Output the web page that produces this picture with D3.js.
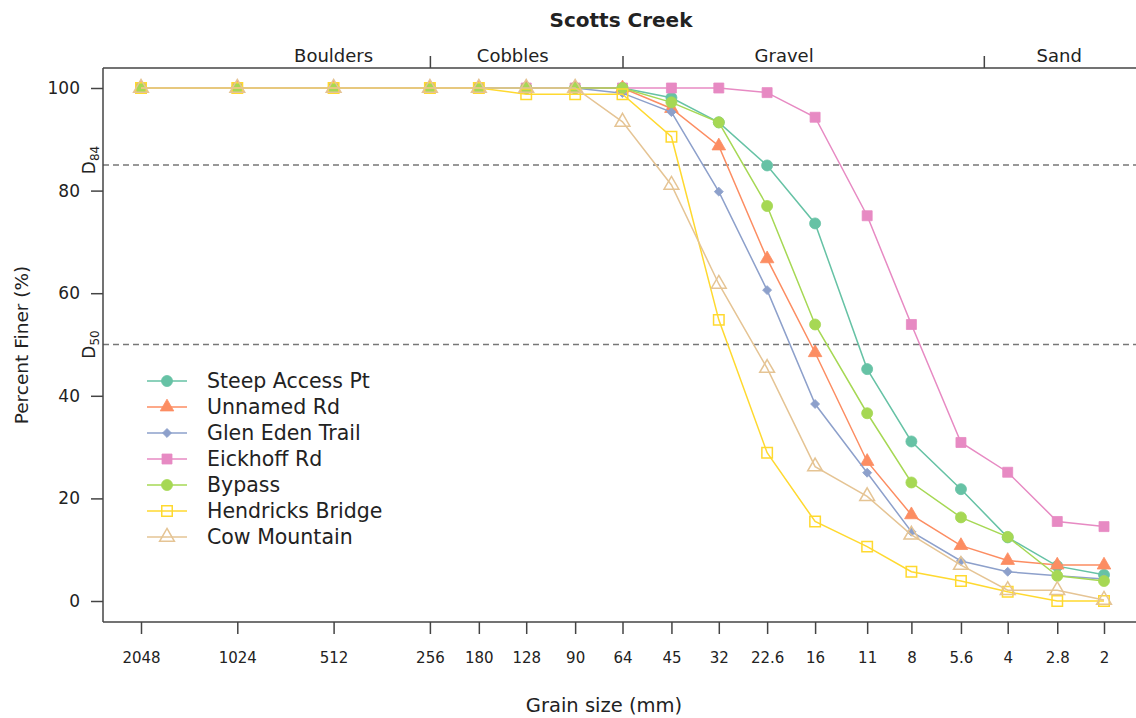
<!DOCTYPE html>
<html><head><meta charset="utf-8">
<script src="https://cdn.jsdelivr.net/npm/d3@7"></script>
<style>
body{margin:0;background:#fff;}
text{font-family:"DejaVu Sans",sans-serif;fill:#222;}
</style></head>
<body><svg id="chart" width="1136" height="718"></svg>
<script>
const sizes = [2048,1024,512,256,180,128,90,64,45,32,22.6,16,11,8,5.6,4,2.8,2];
const tickLabels = ["2048","1024","512","256","180","128","90","64","45","32","22.6","16","11","8","5.6","4","2.8","2"];
const yTicks = [0,20,40,60,80,100];
const siteNames = ["Steep Access Pt","Unnamed Rd","Glen Eden Trail","Eickhoff Rd","Bypass","Hendricks Bridge","Cow Mountain"];
const steepAccessPt  = [100,100,100,100,100,100,100,100,98.1,93.3,84.9,73.6,45.2,31.1,21.8,12.4,6.8,5.1];
const unnamedRd      = [100,100,100,100,100,100,100,100,96.0,88.7,66.7,48.4,27.2,16.8,10.8,7.9,7.0,7.0];
const glenEdenTrail  = [100,100,100,100,100,100,100,99.0,95.3,79.8,60.6,38.4,25.0,13.5,7.8,5.7,4.9,4.3];
const eickhoffRd     = [100,100,100,100,100,100,100,100,100,100,99.1,94.3,75.1,53.9,30.9,25.1,15.5,14.5];
const bypass         = [100,100,100,100,100,100,100,100,97.2,93.3,77.0,53.9,36.6,23.1,16.3,12.5,4.9,3.9];
const hendricksBridge= [100,100,100,100,100,98.8,98.8,98.8,90.5,54.8,28.9,15.5,10.6,5.7,3.9,1.8,0,0];
const cowMountain    = [100,100,100,100,100,100,100,93.4,81.1,61.8,45.4,26.2,20.4,12.9,7.0,2.1,2.1,0.2];
const seriesValues = [steepAccessPt,unnamedRd,glenEdenTrail,eickhoffRd,bypass,hendricksBridge,cowMountain];
const colors = ["#66c2a5","#fc8d62","#8da0cb","#e78ac3","#a6d854","#ffd92f","#e5c494"];
const shapes = ["circle","triangle","diamond","square","circle","squareOpen","triangleOpen"];
const zoneBounds = [256,64,4.75];
const zoneNames = ["Boulders","Cobbles","Gravel","Sand"];
const zoneLabelAt = [512,141,20,2.76];
const refLines = [85,50];
const refLabels = [["D","84"],["D","50"]];

const svg = d3.select("#chart");
const x = d3.scaleLog().base(2).domain([2048,2]).range([141,1104]);
const y = d3.scaleLinear().domain([0,100]).range([601,88]);
const L = 103, R = 1136, T = 68, B = 622;
const axisColor = "#444";

// title
svg.append("text").attr("x",621).attr("y",27).attr("text-anchor","middle")
  .style("font-size","20px").style("font-weight","bold").text("Scotts Creek");

// reference dashed lines
refLines.forEach((v,i)=>{
  svg.append("line").attr("x1",L).attr("x2",R).attr("y1",y(v)).attr("y2",y(v))
    .attr("stroke","#777").attr("stroke-width",1.6).attr("stroke-dasharray","6,4");
  const t = svg.append("text").attr("transform",`translate(95,${y(v)-(i===0?5:0)}) rotate(-90)`)
    .attr("text-anchor","middle").style("font-size","17px");
  t.append("tspan").text(refLabels[i][0]);
  t.append("tspan").attr("dy","4").style("font-size","12px").text(refLabels[i][1]);
});

// frame
svg.append("line").attr("x1",L).attr("x2",L).attr("y1",T).attr("y2",B).attr("stroke",axisColor).attr("stroke-width",1.5);
svg.append("line").attr("x1",L).attr("x2",R).attr("y1",B).attr("y2",B).attr("stroke",axisColor).attr("stroke-width",1.5);
svg.append("line").attr("x1",L).attr("x2",R).attr("y1",T).attr("y2",T).attr("stroke",axisColor).attr("stroke-width",1.5);

// bottom axis
const xAxis = d3.axisBottom(x).tickValues(sizes).tickFormat((d,i)=>tickLabels[i]).tickSize(12).tickPadding(18);
const gx = svg.append("g").attr("transform",`translate(0,${B})`).call(xAxis);
gx.select(".domain").remove();
gx.selectAll("line").attr("stroke",axisColor).attr("stroke-width",1.5);
gx.selectAll("text").style("font-size","15px").style("font-family","DejaVu Sans").attr("fill","#222");

// left axis
const yAxis = d3.axisLeft(y).tickValues(yTicks).tickSize(12).tickPadding(11);
const gy = svg.append("g").attr("transform",`translate(${L},0)`).call(yAxis);
gy.select(".domain").remove();
gy.selectAll("line").attr("stroke",axisColor).attr("stroke-width",1.5);
gy.selectAll("text").style("font-size","17px").style("font-family","DejaVu Sans").attr("fill","#222");

// top zone axis
const xTop = d3.axisTop(x).tickValues(zoneBounds).tickFormat("").tickSize(12);
const gt = svg.append("g").attr("transform",`translate(0,${T})`).call(xTop);
gt.select(".domain").remove();
gt.selectAll("line").attr("stroke",axisColor).attr("stroke-width",1.5);
zoneNames.forEach((n,i)=>{
  svg.append("text").attr("x",x(zoneLabelAt[i])).attr("y",62).attr("text-anchor","middle")
    .style("font-size","18px").text(n);
});

// axis titles
svg.append("text").attr("x",604).attr("y",712).attr("text-anchor","middle").style("font-size","19.5px").text("Grain size (mm)");
svg.append("text").attr("transform","translate(28,345) rotate(-90)").attr("text-anchor","middle").style("font-size","18.5px").text("Percent Finer (%)");

// markers
function drawMarker(g, shape, color){
  let type, size, filled = true, rot = 0;
  if(shape==="circle"){type=d3.symbolCircle;size=95;}
  else if(shape==="triangle"){type=d3.symbolTriangle;size=80;}
  else if(shape==="diamond"){type=d3.symbolSquare;size=40;rot=45;}
  else if(shape==="square"){type=d3.symbolSquare;size=100;}
  else if(shape==="squareOpen"){type=d3.symbolSquare;size=110;filled=false;}
  else {type=d3.symbolTriangle;size=95;filled=false;}
  return g.append("path").attr("d",d3.symbol().type(type).size(size)())
    .attr("transform",`rotate(${rot})`)
    .attr("fill",filled?color:"none").attr("stroke",color).attr("stroke-width",filled?0.8:1.5);
}

const line = d3.line().x((d,i)=>x(sizes[i])).y(d=>y(d));
seriesValues.forEach((vals,s)=>{
  const g = svg.append("g");
  g.append("path").datum(vals).attr("d",line).attr("fill","none").attr("stroke",colors[s]).attr("stroke-width",1.5);
  vals.forEach((v,i)=>{
    const m = g.append("g").attr("transform",`translate(${x(sizes[i])},${y(v)})`);
    drawMarker(m, shapes[s], colors[s]);
  });
});

// legend
siteNames.forEach((n,i)=>{
  const yy = 381 + i*26;
  const g = svg.append("g").attr("transform",`translate(0,${yy})`);
  g.append("line").attr("x1",147).attr("x2",187).attr("y1",0).attr("y2",0).attr("stroke",colors[i]).attr("stroke-width",1.5);
  const m = g.append("g").attr("transform","translate(167,0)");
  drawMarker(m, shapes[i], colors[i]);
  g.append("text").attr("x",207).attr("y",0).attr("dy","0.36em").style("font-size","20.5px").text(n);
});
</script></body></html>
